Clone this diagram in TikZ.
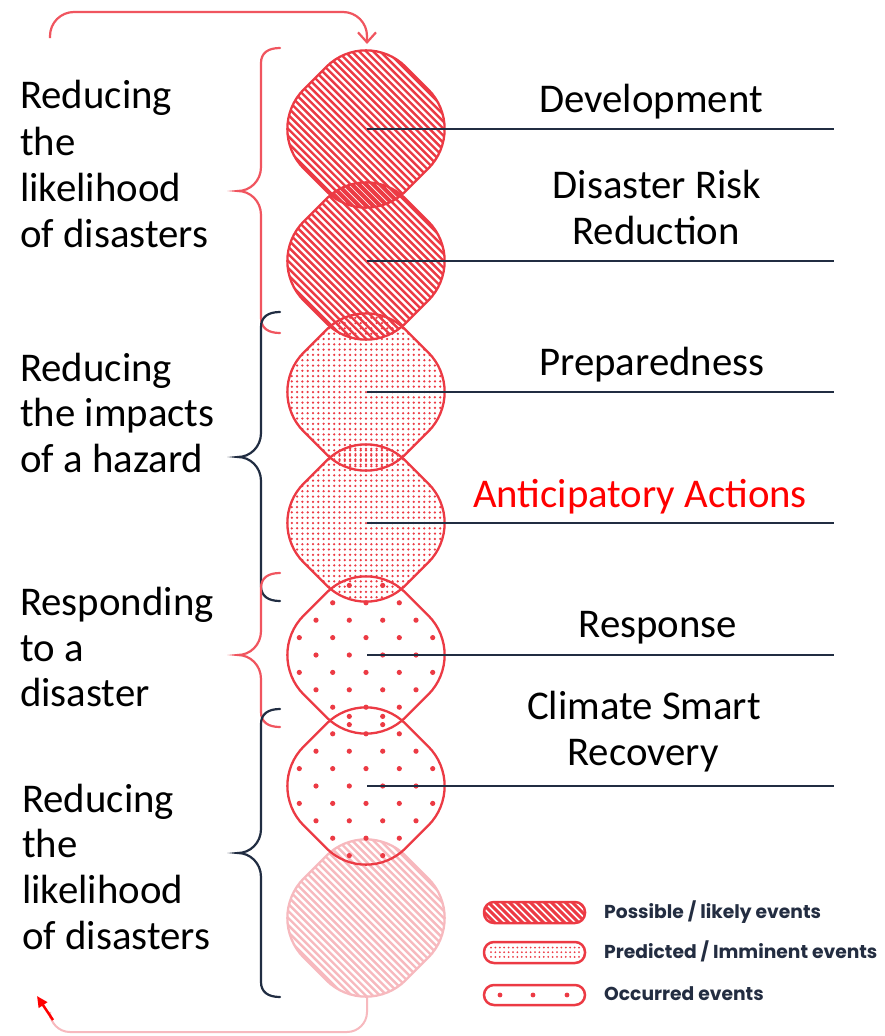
\documentclass[tikz,border=0pt]{standalone}
\usepackage{fontspec}
\setmainfont{Carlito}
\newfontfamily\legfont{Poppins}
\usetikzlibrary{arrows.meta}
\definecolor{shred}{RGB}{236,58,68}
\definecolor{brred}{RGB}{240,85,95}
\definecolor{navy}{RGB}{33,45,66}
\definecolor{fadered}{RGB}{247,185,190}
\definecolor{legtext}{RGB}{35,45,65}
\tikzset{
  blobshape/.style={rotate=45, rounded corners=56pt},
  leader/.style={draw=navy, line width=2pt},
  lab/.style={font=\fontsize{40.8}{46}\selectfont, inner sep=0pt, anchor=base},
  leftlab/.style={font=\fontsize{40.8}{46}\selectfont, inner sep=0pt, anchor=base west},
  legtxt/.style={font=\legfont\bfseries\fontsize{18.7}{22}\selectfont, text=legtext, anchor=base west, inner sep=0pt},
  pill/.style={draw=shred, line width=2.5pt, rounded corners=10pt},
  bracestyle/.style={line width=2.2pt, line cap=round},
}
\newcommand\HatchFill[2]{%
  \begin{scope}[shift={(366,#1)}]
    \clip[blobshape] (-72,-72) rectangle (72,72);
    \foreach \t in {-115,-110,...,115} \draw[#2, line width=2.4pt, rotate=-45] (-120,\t) -- (120,\t);
  \end{scope}}
\newcommand\DenseFill[1]{%
  \begin{scope}[shift={(366,#1)}]
    \clip[blobshape] (-72,-72) rectangle (72,72);
    \foreach \i in {-15,...,15} \foreach \j in {-15,...,15} \fill[shred] (\i*5.3,\j*5.3) circle (1.25pt);
  \end{scope}}
\newcommand\SparseFill[1]{%
  \begin{scope}[shift={(366,#1)}]
    \clip[blobshape] (-72,-72) rectangle (72,72);
    \foreach \r in {-4,-2,0,2,4} \foreach \k in {-83.3,-50,-16.7,16.7,50,83.3} \fill[shred] (\k,\r*17.4) circle (2.6pt);
    \foreach \r in {-5,-3,-1,1,3,5} \foreach \k in {-66.7,-33.3,0,33.3,66.7} \fill[shred] (\k,\r*17.4) circle (2.6pt);
  \end{scope}}
\newcommand\BlobOutline[2]{%
  \draw[shift={(366,#1)}, blobshape, draw=#2, line width=2.3pt] (-72,-72) rectangle (72,72);}
\newcommand\Brace[4]{%
  \draw[#1, bracestyle] (280,#2) .. controls (268,#2) and (261,#2+5) .. (261,#2+15)
    -- (261,#3-24) .. controls (261,#3-10) and (250,#3) .. (238,#3)
    .. controls (250,#3) and (261,#3+10) .. (261,#3+24)
    -- (261,#4-15) .. controls (261,#4-5) and (268,#4) .. (280,#4);}
\begin{document}
\begin{tikzpicture}[x=1pt,y=-1pt]
\fill[white] (0,0) rectangle (884,1036);
\useasboundingbox (0,0) rectangle (884,1036);
% faded shape
\HatchFill{918}{fadered}
\BlobOutline{918}{fadered}
% fills
\HatchFill{129}{shred}
\HatchFill{261}{shred}
\DenseFill{392}
\DenseFill{523}
\SparseFill{655}
\SparseFill{786}
% outlines
\foreach \y in {129,261,392,523,655,786} {\BlobOutline{\y}{shred}}
% leaders
\foreach \n/\y in {1/129,2/261,3/392,4/523,5/655,6/786} {
  \coordinate (s\n) at (367,\y);
  \coordinate (e\n) at (834,\y);
  \draw[leader] (s\n) -- (e\n);
}
% braces
\Brace{brred}{48}{191}{333}
\Brace{navy}{312}{457}{601}
\Brace{brred}{573}{655}{727}
\Brace{navy}{709}{853}{997}
% top arrow
\coordinate (ta) at (50,38);
\coordinate (tb) at (50,12);
\coordinate (tc) at (367,12);
\coordinate (td) at (367,44);
\draw[brred, line width=2.2pt, rounded corners=24pt, -{Straight Barb[length=10pt,width=18pt,line width=2.2pt]}] (ta) -- (tb) -- (tc) -- (td);
% bottom return
\coordinate (ba) at (367,997);
\coordinate (bb) at (367,1032);
\coordinate (bc) at (50,1032);
\coordinate (bd) at (50,1018);
\draw[fadered, line width=2pt, rounded corners=20pt] (ba) -- (bb) -- (bc) -- (bd);
\coordinate (ra) at (53,1020);
\coordinate (rb) at (37,996);
\draw[red, line width=2.5pt, -{Triangle[length=11pt,width=10pt]}] (ra) -- (rb);
% right labels
\node[lab] (tDev) at (651,112) {Development};
\node[lab] (tDRRa) at (657,198) {Disaster Risk};
\node[lab] (tDRRb) at (656,244) {Reduction};
\node[lab] (tPrep) at (652,375) {Preparedness};
\node[lab, text=red] (tAA) at (640,507) {Anticipatory Actions};
\node[lab] (tResp) at (658,637) {Response};
\node[lab] (tCSRa) at (644,719) {Climate Smart};
\node[lab] (tCSRb) at (643,765) {Recovery};
% left labels
\node[leftlab] (la1) at (20,108) {Reducing};
\node[leftlab] (la2) at (20,155) {the};
\node[leftlab] (la3) at (20,201) {likelihood};
\node[leftlab] (la4) at (20,247) {of disasters};
\node[leftlab] (lb1) at (20,381) {Reducing};
\node[leftlab] (lb2) at (20,426) {the impacts};
\node[leftlab] (lb3) at (20,472) {of a hazard};
\node[leftlab] (lc1) at (20,615) {Responding};
\node[leftlab] (lc2) at (20,661) {to a};
\node[leftlab] (lc3) at (20,706) {disaster};
\node[leftlab] (ld1) at (22,812) {Reducing};
\node[leftlab] (ld2) at (22,857) {the};
\node[leftlab] (ld3) at (22,903) {likelihood};
\node[leftlab] (ld4) at (22,949) {of disasters};
% legend
\begin{scope}
  \clip[rounded corners=10pt] (484,902) rectangle (585,923);
  \foreach \t in {460,467,...,600} \draw[shred, line width=3pt] (\t,895) -- (\t+35,930);
\end{scope}
\draw[pill] (484,902) rectangle (585,923);
\begin{scope}
  \clip[rounded corners=10pt] (484,942) rectangle (585,963);
  \foreach \i in {0,...,20} \foreach \j in {0,1,2} \fill[shred] (491+\i*4.4,947.5+\j*4.7) circle (1pt);
\end{scope}
\draw[pill] (484,942) rectangle (585,963);
\draw[pill] (484,985) rectangle (585,1005);
\foreach \x in {500,533,567} \fill[shred] (\x,995) circle (2.4pt);
\node[legtxt] (lg1) at (604,918) {Possible / likely events};
\node[legtxt] (lg2) at (604,958) {Predicted / Imminent events};
\node[legtxt] (lg3) at (604,1000) {Occurred events};
\end{tikzpicture}
\end{document}
